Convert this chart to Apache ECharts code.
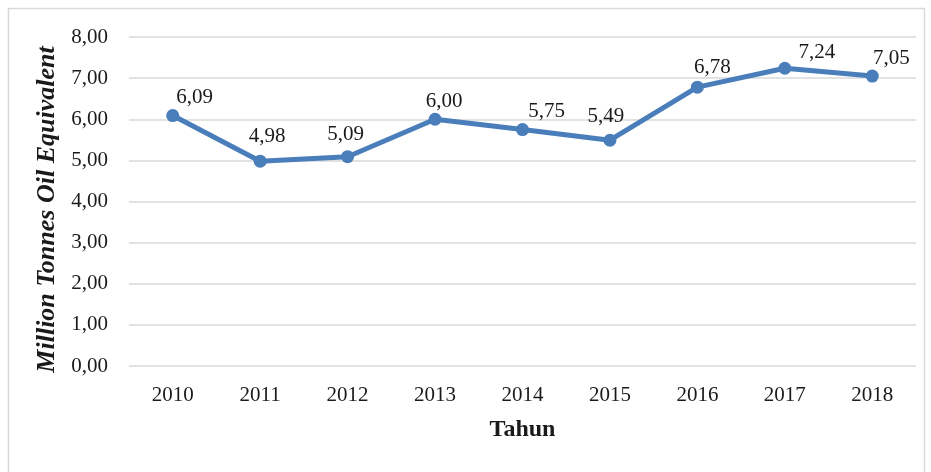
<!DOCTYPE html>
<html>
<head>
<meta charset="utf-8">
<script src="https://cdn.jsdelivr.net/npm/echarts@6/dist/echarts.min.js"></script>
<style>
  html, body { margin: 0; padding: 0; background: #fff; }
  #chart { width: 931px; height: 472px; }
</style>
</head>
<body>
<div id="chart"></div>
<script>
const years = ['2010', '2011', '2012', '2013', '2014', '2015', '2016', '2017', '2018'];
const values = [6.09, 4.98, 5.09, 6.00, 5.75, 5.49, 6.78, 7.24, 7.05];
const yTicks = [0, 1, 2, 3, 4, 5, 6, 7, 8];

// label nudges so the numbers sit where they do in the source figure
const labelNudge = [[22, 4], [7, -3], [-2, 0], [9, 4], [24, 4], [-4, -2], [15, 2], [32, 6], [19, 4]];

const fmt = v => v.toFixed(2).replace('.', ',');
const serif = '"Liberation Serif", "Times New Roman", serif';

const chart = echarts.init(document.getElementById('chart'));

chart.setOption({
  animation: false,
  textStyle: { fontFamily: serif },
  graphic: [{
    type: 'rect',
    shape: { x: 8.5, y: 8.5, width: 916, height: 480 },
    style: { fill: 'none', stroke: '#d9d9d9', lineWidth: 1.5 },
    silent: true
  }],
  grid: { left: 129, right: 15, top: 37, bottom: 106 },
  xAxis: {
    type: 'category',
    data: years,
    name: 'Tahun',
    nameLocation: 'middle',
    nameGap: 52,
    nameTextStyle: { fontFamily: serif, fontWeight: 'bold', fontSize: 24, color: '#1a1a1a' },
    axisLine: { show: false },
    axisTick: { show: false },
    axisLabel: { fontFamily: serif, fontSize: 21, color: '#1a1a1a', margin: 19 }
  },
  yAxis: {
    type: 'value',
    min: yTicks[0],
    max: yTicks[yTicks.length - 1],
    interval: 1,
    name: 'Million Tonnes Oil Equivalent',
    nameLocation: 'middle',
    nameGap: 65,
    nameTextStyle: {
      fontFamily: serif, fontWeight: 'bold', fontStyle: 'italic', fontSize: 26, color: '#1a1a1a',
      padding: [0, 16, 0, 0]
    },
    axisLabel: { fontFamily: serif, fontSize: 21, color: '#1a1a1a', margin: 21, formatter: v => fmt(v) },
    splitLine: { lineStyle: { color: '#d9d9d9', width: 1.5 } },
    axisLine: { show: false },
    axisTick: { show: false }
  },
  series: [{
    type: 'line',
    data: values.map((v, i) => ({
      value: v,
      label: { offset: labelNudge[i] }
    })),
    color: '#4a7ebb',
    lineStyle: { width: 5, color: '#4a7ebb' },
    symbol: 'circle',
    symbolSize: 13,
    itemStyle: { color: '#4a7ebb' },
    label: {
      show: true,
      position: 'top',
      fontFamily: serif,
      fontSize: 21,
      color: '#1a1a1a',
      formatter: p => fmt(p.value)
    }
  }]
});
</script>
</body>
</html>
